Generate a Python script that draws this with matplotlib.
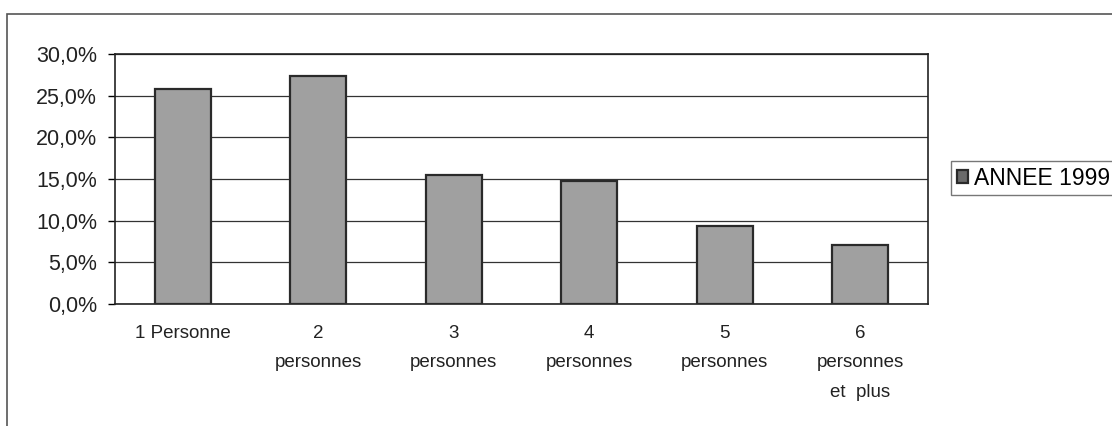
import matplotlib.pyplot as plt
from matplotlib.patches import Rectangle
from matplotlib.ticker import FuncFormatter, MultipleLocator

# données
categories = ["1 Personne", "2\npersonnes", "3\npersonnes", "4\npersonnes",
              "5\npersonnes", "6\npersonnes\net  plus"]
valeurs = [25.8, 27.4, 15.5, 14.8, 9.4, 7.1]
serie = "ANNEE 1999"

plt.rcParams['font.family'] = ['Liberation Sans', 'DejaVu Sans']

fig = plt.figure(figsize=(11.12, 4.26), dpi=100)
ax = fig.add_axes([115 / 1112, 1 - 304 / 426, (928 - 115) / 1112, (304 - 54) / 426])

# cadre extérieur du graphique
fig.patches.append(Rectangle((7 / 1112, -0.1), 1.2, 1 - 14 / 426 + 0.1,
                             transform=fig.transFigure, fill=False,
                             edgecolor='#555555', linewidth=1.2))

x = range(len(categories))
ax.bar(x, valeurs, width=0.41, color='#a0a0a0', edgecolor='#2a2a2a',
       linewidth=1.6, label=serie, zorder=3)

ax.set_xlim(-0.5, len(categories) - 0.5)
ax.set_ylim(0, 30)
ax.yaxis.set_major_locator(MultipleLocator(5))
ax.yaxis.set_major_formatter(FuncFormatter(lambda v, p: f"{v:.1f}%".replace('.', ',')))
ax.grid(axis='y', color='#333333', linewidth=0.9, zorder=0)
ax.set_xticks(list(x))
ax.set_xticklabels(categories, fontsize=13.5, color='#222222', linespacing=1.95,
                   va='top')
ax.tick_params(axis='x', length=0, pad=15)
ax.tick_params(axis='y', labelsize=15.5, labelcolor='#222222', length=5,
               width=1, direction='out', pad=8)
for s in ax.spines.values():
    s.set_linewidth(1.2)
    s.set_color('#222222')

leg = ax.legend(loc='upper left', bbox_to_anchor=(951 / 1112, 1 - 161 / 426),
                bbox_transform=fig.transFigure, fontsize=16.5, frameon=True,
                fancybox=False, edgecolor='#555555', handlelength=0.5,
                handleheight=0.5, handletextpad=0.25, borderpad=0.25,
                borderaxespad=0)
leg.get_frame().set_linewidth(1.0)
leg.legend_handles[0].set_facecolor('#6a6a6a')

plt.savefig("out.png", dpi=100)
